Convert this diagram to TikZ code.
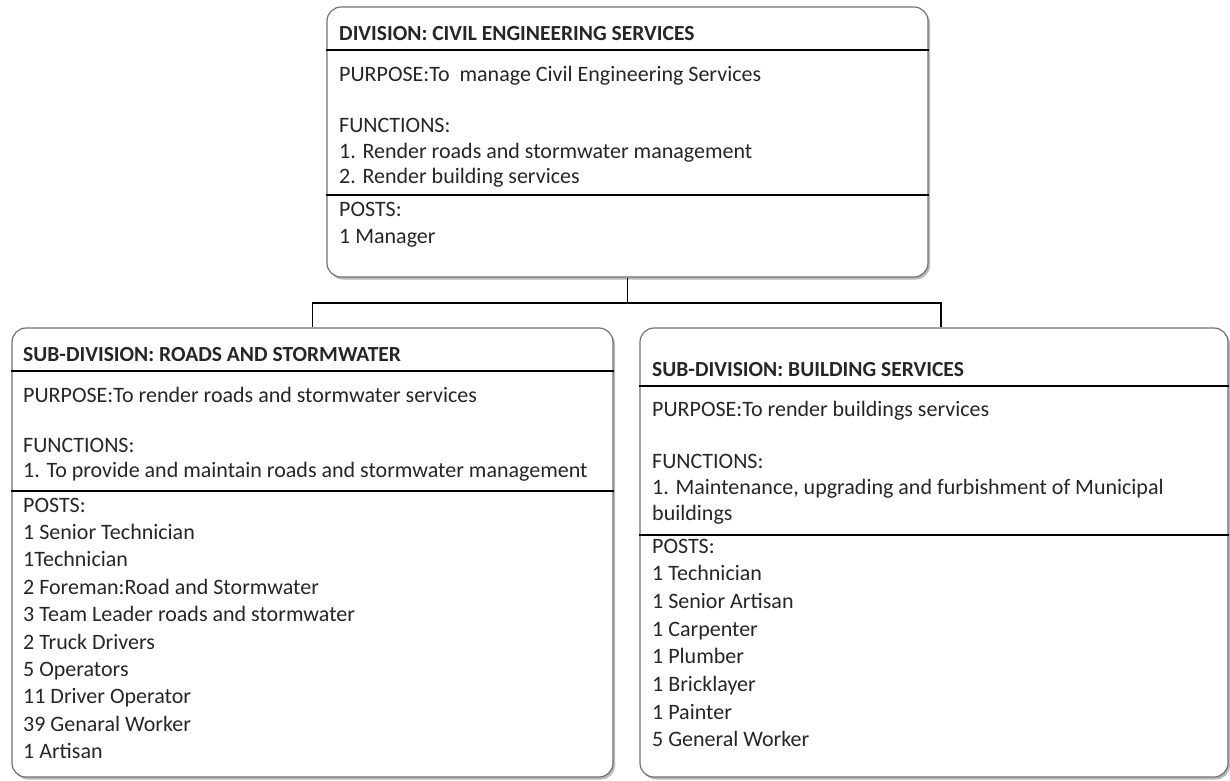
\documentclass[tikz,border=0pt]{standalone}
\usepackage{fontspec}
\setmainfont{Carlito}
\usetikzlibrary{shadows}
\tikzset{
  unitbox/.style={draw=black!55,line width=1.2pt,rounded corners=14pt,fill=white,inner sep=0pt,
    drop shadow={shadow xshift=2pt,shadow yshift=-2.5pt,fill=black!50,opacity=0.55}},
  rule/.style={line width=1.6pt},
  link/.style={line width=1.8pt},
  head/.style={anchor=base west,inner sep=0pt,text=black!85,font=\fontsize{21.5}{25}\selectfont\bfseries},
  body/.style={anchor=base west,align=left,inner sep=0pt,text=black!85},
}
\begin{document}
\begin{tikzpicture}[x=1pt,y=-1pt]
\useasboundingbox (0,0) rectangle (1230,780);
% the three boxes
\node[unitbox,minimum width=601,minimum height=270] (div) at (627.5,142) {};
\node[unitbox,minimum width=601,minimum height=449] (roads) at (312.5,552.5) {};
\node[unitbox,minimum width=588,minimum height=449] (bldg) at (934,552.5) {};
% rules inside the boxes
\draw[rule] (div.west |- 0,50) -- (div.east |- 0,50);
\draw[rule] (div.west |- 0,195) -- (div.east |- 0,195);
\draw[rule] (roads.west |- 0,371) -- (roads.east |- 0,371);
\draw[rule] (roads.west |- 0,491) -- (roads.east |- 0,491);
\draw[rule] (bldg.west |- 0,386) -- (bldg.east |- 0,386);
\draw[rule] (bldg.west |- 0,535) -- (bldg.east |- 0,535);
% division (multi-line nodes sit on their last baseline)
\node[head] (divhead) at (339,40.7) {DIVISION: CIVIL ENGINEERING SERVICES};
\node[body,font=\fontsize{22}{25.5}\selectfont] (divpurp) at (339,183.5)
  {PURPOSE:To\ \ manage Civil Engineering Services\\\mbox{}\\FUNCTIONS:\\1. Render roads and stormwater management\\2. Render building services};
\node[body,font=\fontsize{22}{26.5}\selectfont] (divposts) at (339,243) {POSTS:\\1 Manager};
% roads and stormwater
\node[head] (rdhead) at (23,361.7) {SUB-DIVISION: ROADS AND STORMWATER};
\node[body,font=\fontsize{22}{25}\selectfont] (rdpurp) at (23,477)
  {PURPOSE:To render roads and stormwater services\\\mbox{}\\FUNCTIONS:\\1. To provide and maintain roads and stormwater management};
\node[body,font=\fontsize{22}{27.4}\selectfont] (rdposts) at (23,758.6)
  {POSTS:\\1 Senior Technician\\1Technician\\2 Foreman:Road and Stormwater\\3 Team Leader roads and stormwater\\2 Truck Drivers\\5 Operators\\11 Driver Operator\\39 Genaral Worker\\1 Artisan};
% building services
\node[head] (bshead) at (652,376.7) {SUB-DIVISION: BUILDING SERVICES};
\node[body,font=\fontsize{22}{26}\selectfont] (bspurp) at (652,520)
  {PURPOSE:To render buildings services\\\mbox{}\\FUNCTIONS:\\1. Maintenance, upgrading and furbishment of Municipal\\buildings};
\node[body,font=\fontsize{22}{27.7}\selectfont] (bsposts) at (652,746.9)
  {POSTS:\\1 Technician\\1 Senior Artisan\\1 Carpenter\\1 Plumber\\1 Bricklayer\\1 Painter\\5 General Worker};
% connectors
\coordinate (fork) at (627.5,303);
\draw[link] (div.south) -- (fork);
\draw[link] (roads.north) |- (fork) -| ([xshift=7pt]bldg.north);
\end{tikzpicture}
\end{document}
